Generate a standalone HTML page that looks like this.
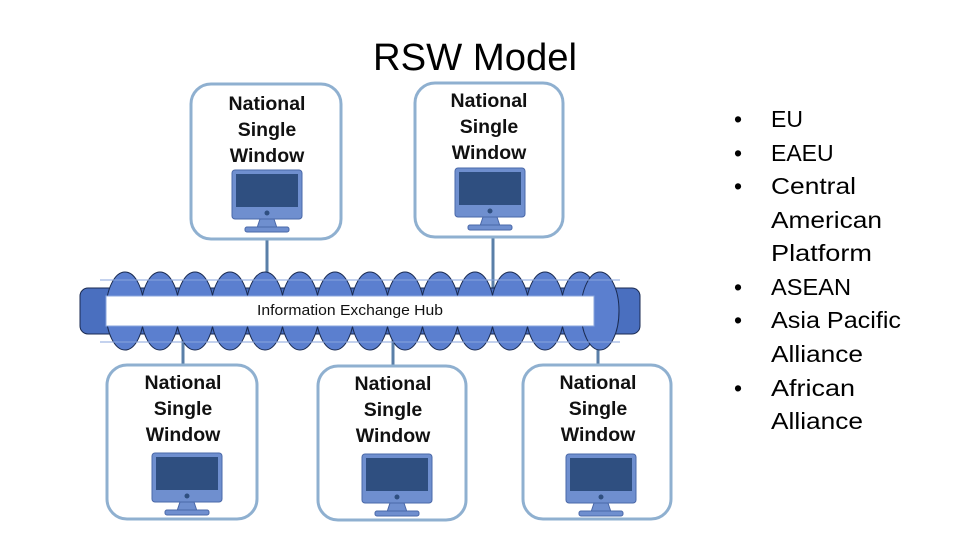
<!DOCTYPE html>
<html><head><meta charset="utf-8"><style>
body{margin:0;background:#fff;width:960px;height:540px;overflow:hidden;font-family:"Liberation Sans",sans-serif}
</style></head><body>
<svg width="960" height="540" viewBox="0 0 960 540" xmlns="http://www.w3.org/2000/svg" font-family="Liberation Sans, sans-serif">
<defs>
<g id="mon">
<rect x="0" y="0" width="70" height="49" rx="3" fill="#6f8fcf" stroke="#4a68a8"/>
<rect x="4" y="4" width="62" height="33" fill="#2f4f80"/>
<circle cx="35" cy="43" r="2.5" fill="#2f4f80"/>
<polygon points="28,49 42,49 45,58 25,58" fill="#6f8fcf" stroke="#4a68a8"/>
<rect x="13" y="57" width="44" height="5" rx="2" fill="#6f8fcf" stroke="#4a68a8"/>
</g>
</defs>
<text x="475" y="70" font-size="38" text-anchor="middle" fill="#000" textLength="204" lengthAdjust="spacingAndGlyphs">RSW Model</text>
<g stroke="#5a7fa8" stroke-width="3">
<line x1="267" y1="240" x2="267" y2="290"/>
<line x1="493" y1="238" x2="493" y2="290"/>
<line x1="183" y1="330" x2="183" y2="365"/>
<line x1="393" y1="330" x2="393" y2="365"/>
<line x1="598" y1="330" x2="598" y2="364"/>
</g>
<rect x="80" y="288" width="560" height="46" rx="8" fill="#4a6fbf" stroke="#1a2a50"/>
<g fill="#5b7fcf" stroke="#1a2a50" stroke-width="1">
<ellipse cx="125" cy="311" rx="19" ry="39"/><ellipse cx="160" cy="311" rx="19" ry="39"/>
<ellipse cx="195" cy="311" rx="19" ry="39"/><ellipse cx="230" cy="311" rx="19" ry="39"/>
<ellipse cx="265" cy="311" rx="19" ry="39"/><ellipse cx="300" cy="311" rx="19" ry="39"/>
<ellipse cx="335" cy="311" rx="19" ry="39"/><ellipse cx="370" cy="311" rx="19" ry="39"/>
<ellipse cx="405" cy="311" rx="19" ry="39"/><ellipse cx="440" cy="311" rx="19" ry="39"/>
<ellipse cx="475" cy="311" rx="19" ry="39"/><ellipse cx="510" cy="311" rx="19" ry="39"/>
<ellipse cx="545" cy="311" rx="19" ry="39"/><ellipse cx="580" cy="311" rx="19" ry="39"/>
<ellipse cx="600" cy="311" rx="19" ry="39"/>
</g>
<g stroke="#8aa6de" stroke-width="1" fill="none">
<line x1="100" y1="280" x2="620" y2="280"/><line x1="100" y1="342" x2="620" y2="342"/>
</g>
<rect x="106" y="296" width="488" height="30" fill="#fff" stroke="#8aa6de"/>
<text x="350" y="315" font-size="15" text-anchor="middle" fill="#111" textLength="186" lengthAdjust="spacingAndGlyphs">Information Exchange Hub</text>
<g fill="#fff" stroke="#8fb0d0" stroke-width="3">
<rect x="191" y="84" width="150" height="155" rx="20"/>
<rect x="415" y="83" width="148" height="154" rx="20"/>
<rect x="107" y="365" width="150" height="154" rx="20"/>
<rect x="318" y="366" width="148" height="154" rx="20"/>
<rect x="523" y="365" width="148" height="154" rx="20"/>
</g>
<g font-size="19.5" font-weight="bold" text-anchor="middle" fill="#111">
<text x="267" y="110">National</text><text x="267" y="136">Single</text><text x="267" y="162">Window</text>
<text x="489" y="107">National</text><text x="489" y="133">Single</text><text x="489" y="159">Window</text>
<text x="183" y="389">National</text><text x="183" y="415">Single</text><text x="183" y="441">Window</text>
<text x="393" y="390">National</text><text x="393" y="416">Single</text><text x="393" y="442">Window</text>
<text x="598" y="389">National</text><text x="598" y="415">Single</text><text x="598" y="441">Window</text>
</g>
<use href="#mon" x="232" y="170"/>
<use href="#mon" x="455" y="168"/>
<use href="#mon" x="152" y="453"/>
<use href="#mon" x="362" y="454"/>
<use href="#mon" x="566" y="454"/>
<g font-size="23" fill="#000">
<text x="734" y="127">•</text><text x="771" y="127">EU</text>
<text x="734" y="161">•</text><text x="771" y="161">EAEU</text>
<text x="734" y="194">•</text><text x="771" y="194" textLength="85" lengthAdjust="spacingAndGlyphs">Central</text>
<text x="771" y="228" textLength="111" lengthAdjust="spacingAndGlyphs">American</text>
<text x="771" y="261" textLength="101" lengthAdjust="spacingAndGlyphs">Platform</text>
<text x="734" y="295">•</text><text x="771" y="295" textLength="80" lengthAdjust="spacingAndGlyphs">ASEAN</text>
<text x="734" y="328">•</text><text x="771" y="328" textLength="130" lengthAdjust="spacingAndGlyphs">Asia Pacific</text>
<text x="771" y="362" textLength="92" lengthAdjust="spacingAndGlyphs">Alliance</text>
<text x="734" y="396">•</text><text x="771" y="396" textLength="84" lengthAdjust="spacingAndGlyphs">African</text>
<text x="771" y="429" textLength="92" lengthAdjust="spacingAndGlyphs">Alliance</text>
</g>
</svg>
</body></html>
